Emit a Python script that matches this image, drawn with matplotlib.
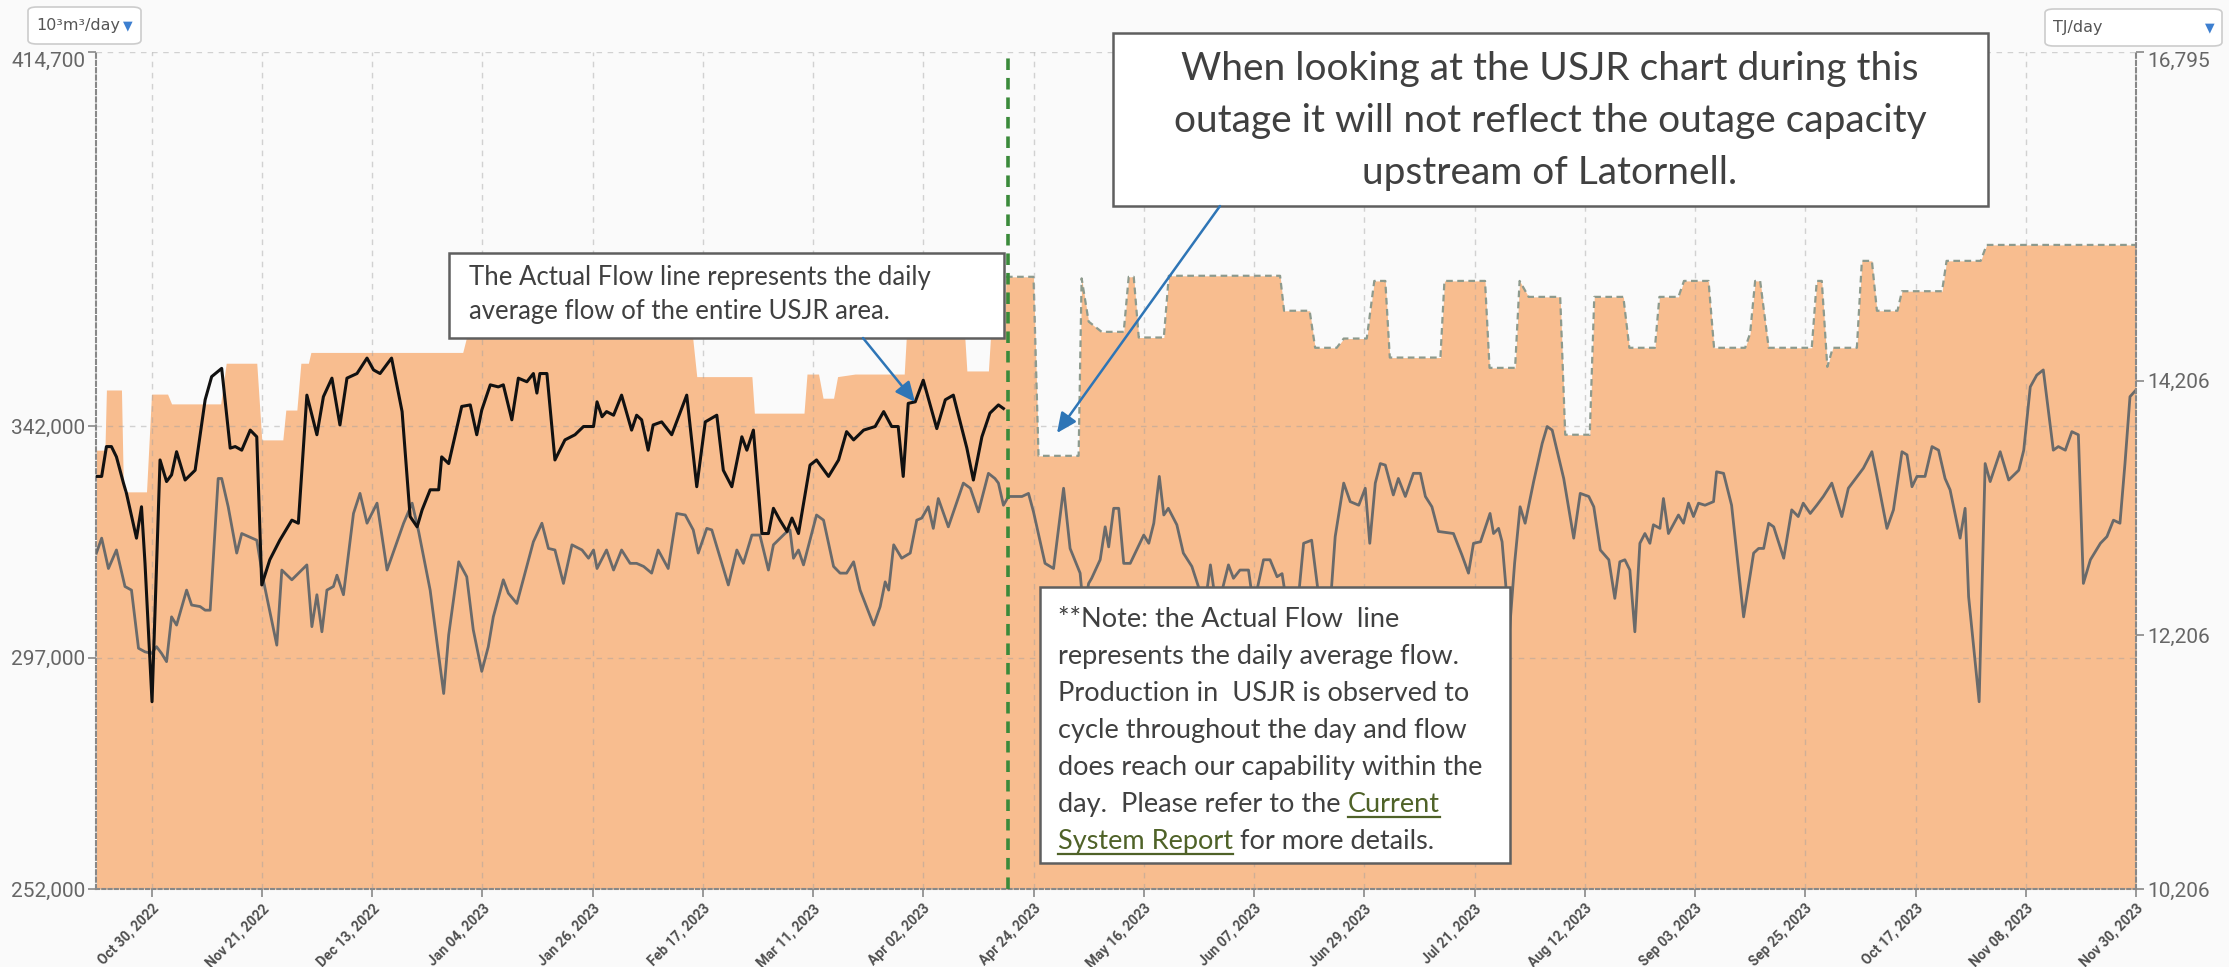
import matplotlib
matplotlib.use('Agg')
import matplotlib.pyplot as plt
import numpy as np
import pandas as pd
from matplotlib.patches import Rectangle, FancyBboxPatch, FancyArrowPatch
from matplotlib.lines import Line2D
from matplotlib.transforms import ScaledTranslation

# ---------------- data ----------------
START = pd.Timestamp('2022-10-19')   # day 0 of the x axis
END = pd.Timestamp('2023-11-30')

# Capability (10^3 m3/day): vertices (days since START, value)
cap_days = [0, 1.7, 2.0, 5.0, 5.4, 10.0, 11.0, 14.2, 15.0, 24.8, 25.9, 32.0, 33.0, 37.2, 37.8, 40.0,
            40.8, 42.3, 42.8, 73.1, 73.8, 119.0, 119.8, 130.8, 131.3, 141.2, 141.8, 144.1, 145.0,
            147.1, 147.9, 151.4, 161.2, 161.6, 173.3, 173.7, 178.0, 178.4, 181.2, 181.5, 187.0,
            188.0, 196.0, 196.6, 198.0, 200.6, 205.0, 206.0, 207.0, 208.0, 213.0, 214.0, 236.2,
            237.0, 242.1, 243.2, 247.5, 248.9, 253.5, 255.0, 257.2, 258.1, 268.2, 269.0, 277.1,
            278.0, 283.1, 284.0, 285.8, 292.1, 293.1, 298.0, 298.9, 304.7, 305.9, 311.0, 311.9,
            315.7, 316.8, 321.7, 322.8, 329.0, 330.0, 331.0, 332.0, 333.7, 342.3, 343.3, 344.3,
            345.4, 346.5, 351.3, 352.3, 354.3, 355.3, 359.4, 360.3, 368.3, 369.2, 376.0, 377.2, 407.0]
cap_vals = [337300, 337300, 349000, 349000, 329200, 329200, 348200, 348200, 346300, 346300,
            354200, 354200, 339300, 339300, 345100, 345100, 354200, 354200, 356300, 356300,
            359000, 359000, 351600, 351600, 344500, 344500, 352100, 352100, 347400, 347400,
            351600, 352100, 352100, 359000, 359000, 352700, 352700, 359000, 359000, 371000,
            371000, 336200, 336200, 370700, 362300, 360300, 360300, 371000, 371000, 359200,
            359200, 371200, 371200, 364400, 364400, 357200, 357200, 359000, 359000, 370200,
            370200, 355300, 355300, 370200, 370200, 353300, 353300, 370200, 367100, 367100,
            340300, 340300, 367100, 367100, 357200, 357200, 367100, 367100, 370200, 370200,
            357200, 357200, 360000, 370200, 370200, 357200, 357200, 370200, 370200, 353500,
            357200, 357200, 374100, 374100, 364400, 364400, 368200, 368200, 374100, 374100,
            377200, 377200]

# Grey flow line (10^3 m3/day)
grey_days = [0.0, 1.05, 2.4, 4.0, 5.7, 7.0, 8.4, 9.7, 11.0, 12.0, 13.0, 14.0, 15.0, 16.0, 18.0,
             19.0, 20.7, 21.7, 22.7, 24.3, 25.0, 26.3, 28.0, 29.0, 32.0, 33.3, 36.0, 37.0, 39.0,
             42.0, 43.0, 44.0, 45.0, 46.0, 47.3, 48.0, 49.3, 51.3, 52.6, 54.0, 56.0, 58.0, 61.3,
             63.0, 64.3, 66.6, 69.3, 70.3, 72.3, 73.9, 75.2, 76.9, 78.2, 79.2, 81.2, 82.2, 83.9,
             87.2, 88.9, 90.2, 91.5, 93.2, 94.9, 96.9, 98.2, 99.2, 99.9, 101.8, 103.2, 104.8,
             106.5, 107.8, 109.2, 110.8, 112.1, 114.1, 115.8, 117.5, 119.1, 120.1, 121.8, 122.8,
             126.1, 127.8, 129.1, 130.8, 132.4, 134.1, 135.1, 137.4, 138.4, 139.1, 140.1, 141.1,
             143.7, 145.1, 147.1, 148.4, 149.7, 151.1, 152.4, 155.1, 156.4, 157.4, 158.1, 159.1,
             160.7, 162.4, 163.7, 164.7, 166.0, 167.0, 168.0, 170.0, 173.0, 174.4, 176.0, 178.0,
             179.3, 180.0, 181.0, 182.0, 183.7, 184.7, 186.0, 187.0, 189.3, 191.0, 193.0, 194.3,
             196.3, 197.0, 198.0, 198.6, 200.3, 201.3, 202.0, 203.0, 204.0, 205.0, 206.3, 209.0,
             210.0, 211.0, 212.1, 213.0, 213.9, 215.6, 216.9, 218.6, 219.9, 220.9, 222.3, 223.6,
             225.9, 226.9, 228.2, 229.9, 230.9, 232.9, 234.2, 235.6, 236.6, 237.6, 239.5, 240.9,
             242.5, 243.9, 245.2, 246.2, 247.2, 248.9, 250.2, 251.9, 253.2, 254.1, 255.2, 256.2,
             257.2, 258.8, 259.8, 261.2, 262.8, 264.2, 265.2, 266.5, 267.8, 270.8, 272.5, 273.8,
             274.8, 276.2, 278.1, 278.8, 279.8, 280.5, 281.1, 282.0, 283.0, 284.1, 285.1, 286.8,
             288.5, 289.5, 290.5, 292.8, 294.8, 296.1, 297.8, 298.8, 300.1, 301.8, 303.0, 304.0,
             305.0, 306.0, 307.0, 308.0, 309.0, 310.0, 310.7, 312.0, 312.7, 313.7, 315.7, 316.7,
             317.7, 318.7, 319.7, 321.0, 322.7, 323.3, 324.7, 326.3, 328.7, 330.7, 331.7, 332.7,
             333.7, 334.7, 336.7, 338.3, 339.6, 340.6, 342.0, 343.3, 344.6, 346.3, 348.3, 349.6,
             352.6, 354.3, 355.3, 357.3, 358.6, 360.3, 361.3, 362.3, 363.3, 364.9, 366.3, 367.6,
             368.9, 369.9, 371.9, 372.9, 373.6, 375.7, 376.9, 377.9, 379.9, 381.6, 383.6, 384.6,
             385.9, 387.2, 388.5, 390.5, 391.5, 392.9, 394.2, 395.5, 396.5, 397.9, 399.9, 401.2,
             402.5, 403.8, 404.8, 405.8, 407.0]
grey_vals = [317300, 320200, 314300, 317900, 310800, 310100, 298800, 298100, 297800, 299100,
             297800, 296200, 304900, 303300, 310100, 307200, 306900, 306200, 306200, 331800,
             331800, 326300, 317300, 321100, 319800, 312100, 299400, 314000, 312100, 315000,
             303000, 309200, 302000, 310100, 310800, 313000, 309200, 325000, 328900, 323100,
             327000, 314000, 323100, 327000, 321500, 310100, 290000, 301400, 315600, 312700,
             302400, 294300, 299100, 304900, 312100, 309500, 307500, 319500, 323100, 318200,
             317900, 311400, 318900, 317900, 316300, 317900, 314300, 317900, 314000, 317900,
             315300, 315300, 314700, 313400, 317900, 314300, 325000, 324700, 321800, 317300,
             322100, 321800, 311100, 317900, 315300, 320800, 320800, 314000, 318900, 321100,
             321800, 316300, 317900, 315000, 324700, 323700, 314700, 313400, 313400, 315600,
             310100, 303300, 306900, 311700, 310100, 318900, 316300, 317300, 323700, 324100,
             326300, 322100, 327900, 322400, 330900, 329900, 325300, 332800, 331800, 330900,
             326600, 328300, 328300, 328300, 328900, 325300, 315300, 314300, 329900, 318200,
             313400, 306000, 311400, 312400, 316000, 322400, 318500, 326000, 326000, 315300,
             315300, 320800, 319200, 323100, 332200, 324700, 326000, 322800, 317300, 314700,
             310800, 305000, 315000, 306000, 315000, 312400, 314000, 314000, 307000, 316000,
             316000, 312700, 313300, 307000, 305000, 319200, 319800, 309000, 310000, 307000,
             320500, 330900, 327300, 326600, 329900, 319200, 330900, 334700, 334400, 328600,
             331800, 328300, 332800, 332800, 328300, 326300, 321500, 321100, 316900, 313400,
             319200, 319500, 325000, 321100, 322100, 319500, 312700, 302400, 315300, 326300,
             323100, 331200, 338600, 341900, 341200, 331800, 320200, 328900, 328300, 326300,
             317900, 316000, 308500, 315600, 316000, 314000, 302000, 319200, 321100, 319200,
             322800, 322100, 327900, 321100, 324700, 323100, 327000, 324400, 327000, 326600,
             327300, 333100, 332800, 326600, 304900, 317300, 318200, 318200, 323100, 322400,
             316300, 325700, 324400, 327000, 325000, 326600, 328300, 330900, 324400, 329900,
             333800, 337000, 332200, 322100, 325700, 337000, 336400, 330200, 332200, 332200,
             338000, 337300, 331800, 329600, 320200, 326000, 308800, 288400, 334700, 331200,
             337000, 331500, 333400, 337300, 349600, 351900, 352900, 337300, 338000, 337300,
             340900, 340300, 311400, 316000, 319200, 320500, 323700, 323100, 334700, 347700,
             349000]

# Actual Flow (USJR) black line (10^3 m3/day)
actual_days = [0.0, 1.05, 2.0, 3.0, 4.0, 5.4, 6.0, 8.0, 9.0, 9.7, 11.1, 12.7, 14.0, 15.0, 16.0,
               17.7, 19.7, 21.7, 23.0, 25.0, 26.7, 27.7, 29.0, 30.7, 32.0, 33.0, 34.6, 36.6, 39.0,
               40.3, 42.0, 44.0, 45.3, 47.0, 48.6, 50.0, 52.0, 54.0, 55.3, 56.6, 58.9, 61.0, 62.6,
               64.0, 65.0, 66.6, 68.3, 68.9, 70.3, 72.9, 74.6, 75.9, 76.9, 78.6, 80.2, 81.2, 82.9,
               84.2, 85.9, 87.2, 87.9, 88.5, 89.9, 91.5, 93.5, 95.5, 97.2, 99.2, 99.9, 100.9, 101.8,
               103.2, 104.8, 106.8, 107.8, 108.8, 110.1, 111.1, 112.8, 114.8, 117.8, 119.8, 121.5,
               123.8, 125.1, 126.8, 128.8, 129.8, 131.1, 132.8, 134.1, 135.1, 136.4, 137.8, 138.8,
               140.1, 142.4, 143.7, 146.1, 148.1, 149.7, 151.1, 153.1, 155.4, 157.1, 158.7, 160.0,
               161.0, 162.0, 163.4, 165.0, 167.7, 169.4, 171.0, 173.7, 175.0, 176.7, 178.3, 180.0,
               181.0]
actual_vals = [332200, 332200, 338000, 338000, 336000, 330900, 328900, 320200, 326300, 315300,
               288400, 335400, 331200, 332500, 337000, 331500, 333400, 347100, 351600, 353200,
               337700, 338000, 337300, 341200, 339900, 311100, 316000, 319800, 323700, 323100,
               348000, 340300, 347700, 351300, 342200, 351300, 352200, 355200, 352900, 352200,
               355200, 344800, 324400, 322400, 325700, 329600, 329600, 336000, 334700, 345800,
               346100, 340300, 345100, 350000, 349600, 350000, 343200, 351300, 350600, 352200,
               348400, 352200, 352200, 335400, 339300, 340300, 341900, 341900, 346700, 343800,
               344800, 344100, 348000, 341200, 344100, 343200, 337300, 342200, 342800, 340300,
               348000, 330200, 342800, 344100, 333400, 330200, 339900, 337300, 341200, 321100,
               321100, 326000, 323700, 321500, 324100, 321100, 334400, 335400, 332200, 335400,
               340900, 339300, 341200, 341900, 344800, 341900, 341900, 332200, 346400, 346700,
               350900, 341500, 347100, 348000, 337700, 331500, 339900, 344500, 346100, 345400]

outage_day = 181.9                       # green dashed marker
tick_dates = pd.date_range('2022-10-30', '2023-11-30', freq='22D')
left_ticks = [252000, 297000, 342000, 414700]
right_ticks = [10206, 12206, 14206, 16795]

big_note = ["When looking at the USJR chart during this",
            "outage it will not reflect the outage capacity",
            "upstream of Latornell."]
flow_note = ["The Actual Flow line represents the daily",
             "average flow of the entire USJR area."]
note_lines = ["**Note: the Actual Flow  line",
              "represents the daily average flow.",
              "Production in  USJR is observed to",
              "cycle throughout the day and flow",
              "does reach our capability within the"]

# ---------------- figure ----------------
W, H = 2229, 967
DPI = 100
BG = '#fafafa'
ORANGE = '#f8bd8f'
fig = plt.figure(figsize=(W / DPI, H / DPI), dpi=DPI, facecolor=BG)

def fx(x):
    return x / W

def fy(y):
    return 1 - y / H

L, R, T, B = 96.4, 2136, 52, 889
ax = fig.add_axes([fx(L), fy(B), (R - L) / W, (B - T) / H])
ax.set_facecolor(BG)

def to_dates(days):
    return START + pd.to_timedelta(np.asarray(days, dtype=float), unit='D')

cap_d = to_dates(cap_days)
cap_v = np.array(cap_vals, dtype=float)
ax.fill_between(cap_d, 252000, cap_v, color=ORANGE, lw=0, zorder=1)
mask = np.asarray(cap_days) >= 181.5
ax.plot(cap_d[mask], cap_v[mask], color='#8d9a8d', lw=1.6, ls=(0, (3, 2)), zorder=2)

ax.plot(to_dates(grey_days), grey_vals, color='#6a6a6a', lw=2.0, zorder=3,
        solid_joinstyle='round')
ax.plot(to_dates(actual_days), actual_vals, color='#111111', lw=2.2, zorder=4,
        solid_joinstyle='round')

ax.axvline(START + pd.Timedelta(days=outage_day), color='#3a8a3a', lw=2.6,
           ls=(0, (3.2, 2.2)), zorder=5)

ax.set_xlim(START, END)
ax.set_ylim(252000, 414700)
ax.set_xticks(tick_dates)
ax.set_xticklabels([d.strftime('%b %d, %Y') for d in tick_dates])
ax.set_yticks(left_ticks)
ax.set_yticklabels([f'{v:,}' for v in left_ticks])

ax.grid(True, axis='both', color='#a0a0a0', alpha=0.45, lw=1.0, ls=(0, (4, 4)), zorder=2.5)
ax.set_axisbelow(False)

shift = ScaledTranslation(0.09, 0.0, fig.dpi_scale_trans)
for lab in ax.get_xticklabels():
    lab.set_rotation(45)
    lab.set_ha('right')
    lab.set_va('top')
    lab.set_rotation_mode('anchor')
    lab.set_fontfamily(['Liberation Sans Narrow', 'Roboto'])
    lab.set_fontweight('bold')
    lab.set_fontsize(10)
    lab.set_color('#505050')
    lab.set_transform(lab.get_transform() + shift)
ax.tick_params(axis='x', length=6, width=1.2, color='#888888', pad=3)
ax.tick_params(axis='y', length=6, width=1.2, color='#888888', pad=2,
               labelsize=15, labelcolor='#666666')
for lab in ax.get_yticklabels():
    lab.set_fontfamily('Roboto')
ax.get_yticklabels()[-1].set_va('top')

for s in ['top', 'right']:
    ax.spines[s].set_visible(False)
ax.spines['left'].set_color('#888888')
ax.spines['left'].set_linestyle((0, (2, 1.5)))
ax.spines['left'].set_linewidth(1.5)
ax.spines['bottom'].set_color('#888888')
ax.spines['bottom'].set_linestyle((0, (1.5, 1.5)))
ax.spines['bottom'].set_linewidth(1.5)

ax2 = ax.twinx()
ax2.set_ylim(10206, 16795)
ax2.set_yticks(right_ticks)
ax2.set_yticklabels([f'{v:,}' for v in right_ticks])
for s in ['top', 'left', 'bottom']:
    ax2.spines[s].set_visible(False)
ax2.spines['right'].set_color('#888888')
ax2.spines['right'].set_linestyle((0, (2, 1.5)))
ax2.spines['right'].set_linewidth(1.5)
ax2.tick_params(axis='y', length=6, width=1.2, color='#888888', pad=2,
                labelsize=15, labelcolor='#666666')
for lab in ax2.get_yticklabels():
    lab.set_fontfamily('Roboto')
ax2.get_yticklabels()[-1].set_va('top')

# ---------------- dropdowns ----------------
def dropdown(x0, y0, x1, y1, label, tri_x):
    fig.add_artist(FancyBboxPatch((fx(x0), fy(y1)), (x1 - x0) / W, (y1 - y0) / H,
                                  boxstyle='round,pad=0,rounding_size=0.004',
                                  transform=fig.transFigure, facecolor='white',
                                  edgecolor='#cccccc', lw=1.2))
    fig.text(fx(x0 + 8), fy((y0 + y1) / 2), label, fontsize=11.5, color='#555555',
             family='DejaVu Sans', va='center', ha='left')
    fig.text(fx(tri_x), fy((y0 + y1) / 2), '\u25BC', fontsize=9, color='#3d7fd0',
             family='DejaVu Sans', va='center', ha='center')

dropdown(28, 7, 141, 44, '10\u00b3m\u00b3/day', 128)
dropdown(2045, 9, 2222, 46, 'TJ/day', 2210)

# ---------------- annotation boxes ----------------
TXT = '#404040'
NOTE_FONT = 'Lato'

def box(x0, y0, x1, y1):
    fig.add_artist(Rectangle((fx(x0), fy(y1)), (x1 - x0) / W, (y1 - y0) / H,
                             transform=fig.transFigure, facecolor='white',
                             edgecolor='#5f5f5f', lw=1.8, zorder=10))

# big box
box(1113, 33, 1988, 206)
for i, line in enumerate(big_note):
    fig.text(fx(1550), fy(80 + 52 * i), line, fontsize=28, color=TXT, family=NOTE_FONT,
             ha='center', va='baseline', zorder=11)

# flow box
box(449, 253, 1004, 338)
for i, line in enumerate(flow_note):
    fig.text(fx(469), fy(285 + 34 * i), line, fontsize=18.5, color=TXT, family=NOTE_FONT,
             ha='left', va='baseline', zorder=11)

# note box
NOTE_FS = 19.5
box(1040, 587, 1510, 863)
NX, NY0, NDY = 1058, 627, 37
for i, line in enumerate(note_lines):
    fig.text(fx(NX), fy(NY0 + NDY * i), line, fontsize=NOTE_FS, color=TXT, family=NOTE_FONT,
             ha='left', va='baseline', zorder=11)

renderer = fig.canvas.get_renderer()
LINK = '#4f6228'

def width_px(s):
    t = fig.text(0, 0, s, fontsize=NOTE_FS, family=NOTE_FONT)
    w = t.get_window_extent(renderer).width
    t.remove()
    return w

space_w = width_px('a a') - width_px('aa')

def segments(y, parts):
    x = NX
    for txt, color, ul in parts:
        fig.text(fx(x), fy(y), txt, fontsize=NOTE_FS, color=color, family=NOTE_FONT,
                 ha='left', va='baseline', zorder=11)
        w = width_px(txt.strip()) if txt.strip() else 0
        lead = (len(txt) - len(txt.lstrip())) * space_w
        trail = (len(txt) - len(txt.rstrip())) * space_w
        if ul:
            fig.add_artist(Line2D([fx(x + lead), fx(x + lead + w)], [fy(y + 5), fy(y + 5)],
                                  transform=fig.transFigure, color=color, lw=1.6, zorder=11))
        x += lead + w + trail

segments(NY0 + NDY * 5, [('day.  Please refer to the ', TXT, False), ('Current', LINK, True)])
segments(NY0 + NDY * 6, [('System Report', LINK, True), (' for more details.', TXT, False)])

# arrows
for (x0, y0), (x1, y1) in [((863, 338), (915, 402)), ((1220, 206), (1057, 433))]:
    fig.add_artist(FancyArrowPatch((fx(x0), fy(y0)), (fx(x1), fy(y1)),
                                   transform=fig.transFigure,
                                   arrowstyle='-|>,head_length=1.2,head_width=0.55',
                                   mutation_scale=10, color='#2e75b6', lw=1.8, zorder=12,
                                   shrinkA=0, shrinkB=0))

fig.savefig('out.png', dpi=DPI, facecolor=BG)
